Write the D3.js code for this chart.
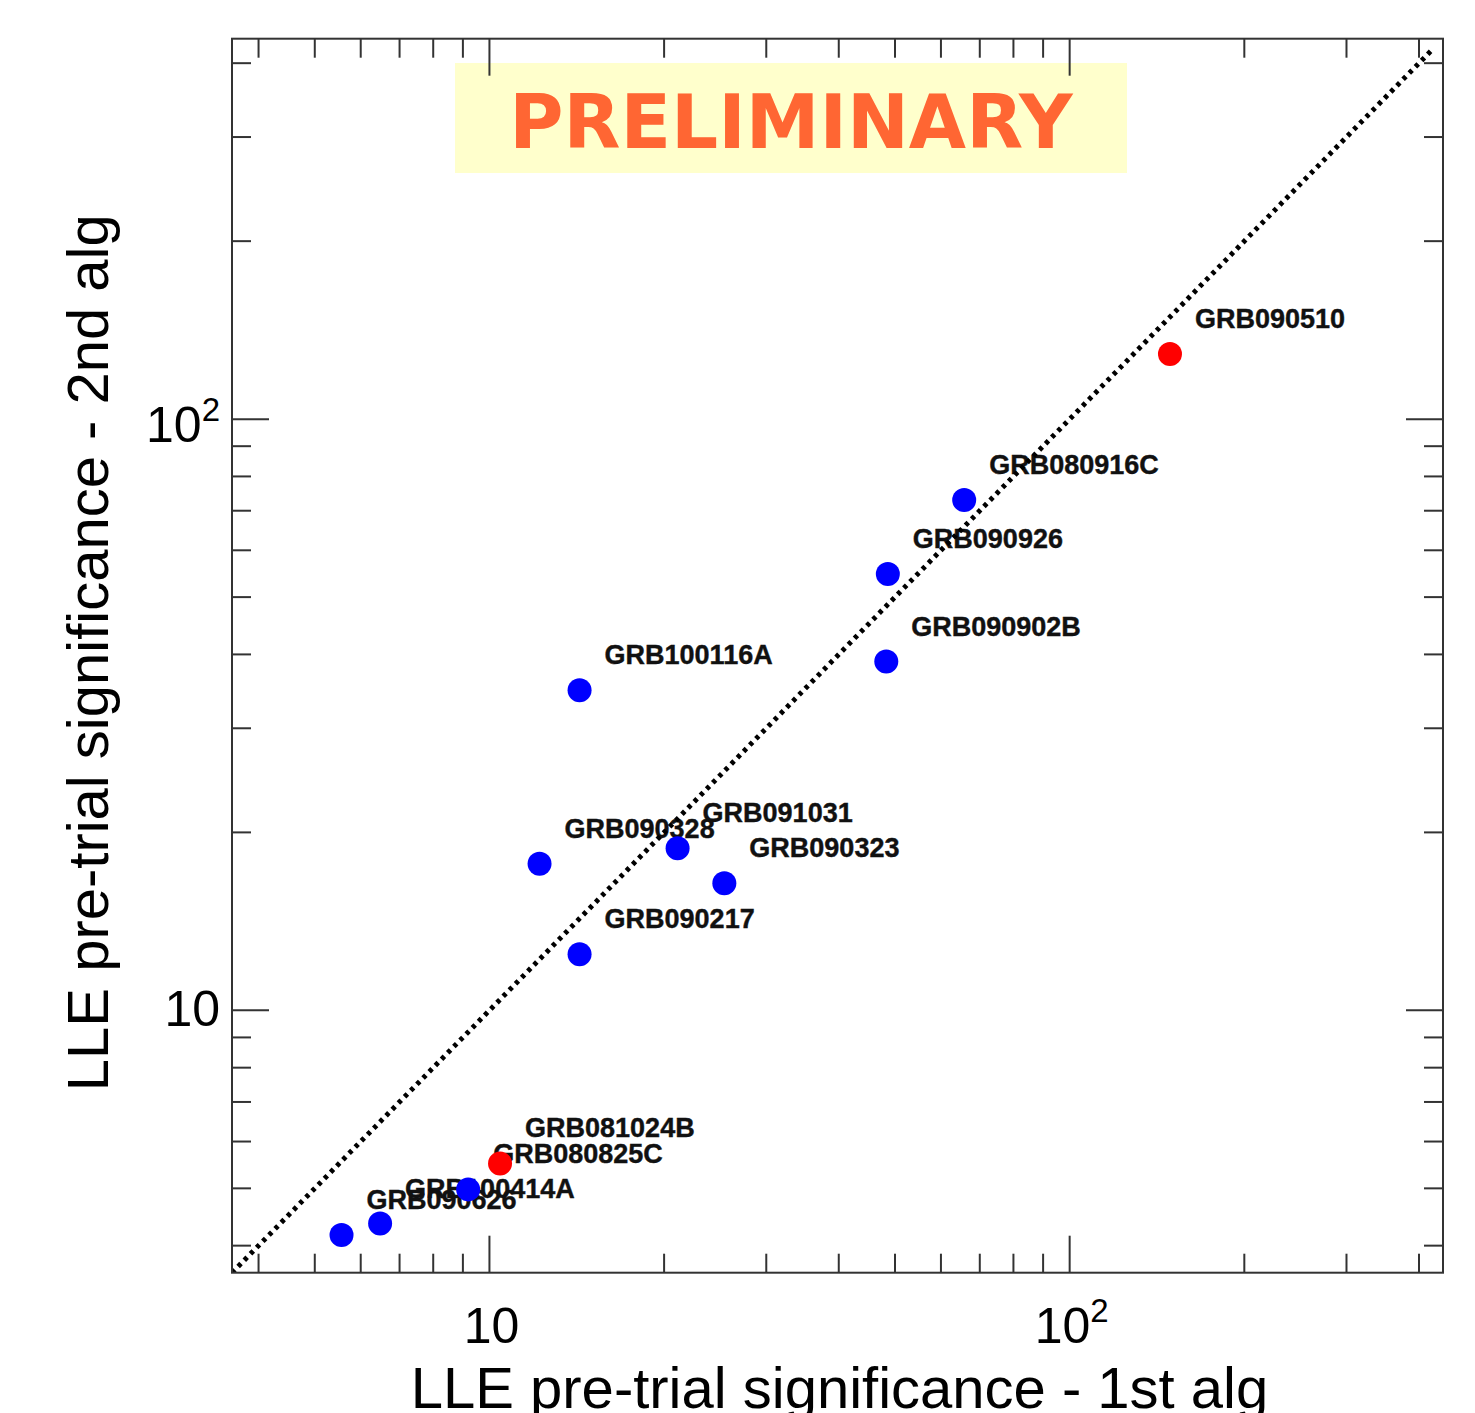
<!DOCTYPE html>
<html><head><meta charset="utf-8">
<script src="https://cdn.jsdelivr.net/npm/d3@7/dist/d3.min.js"></script>
<style>body{margin:0;background:#fff} svg{display:block}</style>
</head><body>
<svg id="c" width="1475" height="1413"></svg>
<script>
// ---- data ----
const names   = ["GRB090510","GRB080916C","GRB090926","GRB090902B","GRB100116A","GRB091031","GRB090328","GRB090323","GRB090217","GRB081024B","GRB080825C","GRB100414A","GRB090626"];
const xValues = [148.9, 65.8, 48.6, 48.3, 14.3, 21.1, 12.2, 25.4, 14.3, 10.43, 9.19, 6.48, 5.56];
const yValues = [128.9, 73.0, 54.7, 38.9, 34.8, 18.8, 17.7, 16.4, 12.44, 5.51, 4.98, 4.36, 4.17];
const grbType = ["short","long","long","long","long","long","long","long","long","short","long","long","long"];
const majorTicks = [10, 100];
const minorTicks = [4,5,6,7,8,9,20,30,40,50,60,70,80,90,200,300,400];
const axisDomain = [3.6, 440];
const diagonalEnds = [3.6, 420];
const xTitle = "LLE pre-trial significance - 1st alg";
const yTitle = "LLE pre-trial significance - 2nd alg";
const stampText = "PRELIMINARY";

// ---- layout ----
const L = 232, R = 1443, T = 38.7, B = 1272.7;
const svg = d3.select("#c");
const font = "'Liberation Sans', Arial, Helvetica, sans-serif";
const x = d3.scaleLog().domain(axisDomain).range([L, R]);
const y = d3.scaleLog().domain(axisDomain).range([B, T]);
const color = {short: "#ff0000", long: "#0000ff"};
const data = names.map((n, i) => ({name: n, x: xValues[i], y: yValues[i], t: grbType[i]}));

svg.append("rect").attr("width", 1475).attr("height", 1413).attr("fill", "#fff");

// stamp
svg.append("rect").attr("x", 455).attr("y", 63).attr("width", 672).attr("height", 110).attr("fill", "#ffffcc");
svg.append("text").attr("x", 791).attr("y", 148).attr("text-anchor", "middle")
  .attr("font-family", "'DejaVu Sans', sans-serif").attr("font-weight", "bold").attr("font-size", 74)
  .attr("fill", "#ff6633").text(stampText);

// labels
svg.append("g").selectAll("text").data(data).join("text")
  .attr("x", d => x(d.x) + 25).attr("y", d => y(d.y) - 26)
  .attr("font-family", font).attr("font-weight", "bold").attr("font-size", 27)
  .attr("fill", "#111").attr("stroke", "#111").attr("stroke-width", 0.4).text(d => d.name);

// diagonal
svg.append("defs").append("clipPath").attr("id", "clip").append("rect")
  .attr("x", L).attr("y", T).attr("width", R - L).attr("height", B - T);
svg.append("path").attr("clip-path", "url(#clip)")
  .attr("d", d3.line().x(d => x(d)).y(d => y(d))(diagonalEnds))
  .attr("fill", "none").attr("stroke", "#000").attr("stroke-width", 5)
  .attr("stroke-dasharray", "4 4.8");

// points
svg.append("g").selectAll("circle").data(data).join("circle")
  .attr("cx", d => x(d.x)).attr("cy", d => y(d.y)).attr("r", 12)
  .attr("fill", d => color[d.t]);

// frame & ticks
const ax = svg.append("g").attr("stroke", "#333").attr("stroke-width", 2).attr("fill", "none");
ax.append("rect").attr("x", L).attr("y", T).attr("width", R - L).attr("height", B - T);
const tl = v => majorTicks.includes(v) ? 37 : 19;
const allTicks = majorTicks.concat(minorTicks);
allTicks.forEach(v => {
  const px = x(v), py = y(v), len = tl(v);
  ax.append("line").attr("x1", px).attr("x2", px).attr("y1", B).attr("y2", B - len);
  ax.append("line").attr("x1", px).attr("x2", px).attr("y1", T).attr("y2", T + len);
  ax.append("line").attr("y1", py).attr("y2", py).attr("x1", L).attr("x2", L + len);
  ax.append("line").attr("y1", py).attr("y2", py).attr("x1", R).attr("x2", R - len);
});

// tick labels
function tickLabel(sel, v) {
  const e = Math.round(Math.log10(v));
  if (e === 1) { sel.text("10"); }
  else {
    sel.append("tspan").text("10");
    sel.append("tspan").attr("font-size", 33).attr("dy", -21).text(String(e));
  }
}
majorTicks.forEach(v => {
  const e = Math.round(Math.log10(v));
  const tb = svg.append("text").attr("x", x(v) + 2).attr("y", 1343).attr("text-anchor", "middle")
    .attr("font-family", font).attr("font-size", 50).attr("fill", "#000");
  tickLabel(tb, v);
  const tlft = svg.append("text").attr("x", 220).attr("y", y(v) + (e === 1 ? 16 : 23)).attr("text-anchor", "end")
    .attr("font-family", font).attr("font-size", 50).attr("fill", "#000");
  tickLabel(tlft, v);
});

// axis titles
svg.append("text").attr("x", (L + R) / 2 + 2).attr("y", 1408).attr("text-anchor", "middle")
  .attr("font-family", font).attr("font-size", 58).attr("fill", "#000").text(xTitle);
svg.append("text").attr("transform", `translate(108,${(T + B) / 2 - 3}) rotate(-90)`).attr("text-anchor", "middle")
  .attr("font-family", font).attr("font-size", 58).attr("fill", "#000").text(yTitle);
</script>
</body></html>
